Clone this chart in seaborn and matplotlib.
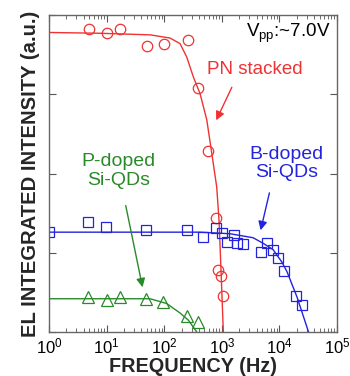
import matplotlib
matplotlib.use('Agg')
import matplotlib.pyplot as plt
from matplotlib.ticker import LogLocator
import numpy as np
import pandas as pd
import seaborn as sns

# measured points (frequency in Hz, EL intensity in a.u.)
pn_freq = [5.0, 10.0, 17.1, 49.7, 99.4, 256, 391, 583, 793, 869, 957, 1062]
pn_int = [3.83, 3.77, 3.83, 3.61, 3.63, 3.69, 3.08, 2.29, 1.44, 0.78, 0.71, 0.45]

b_freq = [1.0, 4.8, 9.7, 47.7, 252, 477, 793, 995, 1216, 1629, 1859, 2362,
          4732, 6023, 7652, 9578, 12170, 19410, 24370]
b_int = [1.26, 1.39, 1.33, 1.29, 1.29, 1.20, 1.31, 1.25, 1.13, 1.22, 1.12, 1.11,
         1.01, 1.12, 1.04, 0.94, 0.77, 0.45, 0.34]

p_freq = [4.8, 10.0, 17.1, 48.3, 96.5, 252, 391]
p_int = [0.44, 0.40, 0.44, 0.42, 0.38, 0.20, 0.13]

# fitted curves
pn_fit_freq = [1, 7.7, 56.7, 126, 188, 246, 320, 418, 547, 668, 815, 894, 968, 1062]
pn_fit_int = [3.78, 3.77, 3.75, 3.71, 3.64, 3.47, 3.22, 3.01, 2.68, 2.26, 1.83, 1.41, 0.78, 0.0]

b_fit_freq = [1, 418, 1388, 3481, 5194, 7743, 11090, 13550, 20220, 32000]
b_fit_int = [1.26, 1.26, 1.24, 1.19, 1.12, 1.04, 0.88, 0.76, 0.44, 0.0]

p_fit_freq = [1, 56.7, 110, 188, 262, 367]
p_fit_int = [0.42, 0.42, 0.36, 0.24, 0.15, 0.0]

x_ticks = [1, 10, 100, 1000, 10000, 100000]

red = '#f03232'
blue = '#2323dd'
green = '#2a8a2a'

sns.set_style('ticks')
plt.rcParams['font.family'] = ['Liberation Sans', 'DejaVu Sans']
plt.rcParams['mathtext.default'] = 'regular'

fig = plt.figure(figsize=(3.5, 3.76), dpi=100)
ax = fig.add_axes([0.14, 0.117, 0.823, 0.843])

for fx, fy, c in [(pn_fit_freq, pn_fit_int, red),
                  (b_fit_freq, b_fit_int, blue),
                  (p_fit_freq, p_fit_int, green)]:
    sns.lineplot(x=fx, y=fy, ax=ax, color=c, lw=1.0, estimator=None, sort=False)

for fx, fy, c, m, ms in [(pn_freq, pn_int, red, 'o', 7.5),
                         (b_freq, b_int, blue, 's', 7.5),
                         (p_freq, p_int, green, '^', 8.5)]:
    sns.lineplot(x=fx, y=fy, ax=ax, color=c, linestyle='', marker=m,
                 markersize=ms, markerfacecolor='none', markeredgecolor=c,
                 markeredgewidth=0.9, estimator=None, sort=False)

ax.set_xscale('log')
ax.xaxis.set_major_locator(LogLocator(base=10, numticks=20))
ax.xaxis.set_minor_locator(LogLocator(base=10, subs=np.arange(2, 10), numticks=20))
ax.set_xticks(x_ticks)
ax.set_xlim(1, 1e5)
ax.set_ylim(0, 4)
ax.set_yticks([0, 1, 2, 3, 4])
ax.set_yticklabels([])

ax.tick_params(which='both', direction='in', top=True, right=True, colors='#555555',
               labelcolor='black', labelsize=12)
ax.tick_params(which='major', length=5, width=0.8)
ax.tick_params(which='minor', length=3, width=0.6)
for s in ax.spines.values():
    s.set_color('#666666')
    s.set_linewidth(1.0)

ax.set_xlabel('FREQUENCY (Hz)', fontsize=14.3, fontweight='bold', labelpad=0)
ax.set_ylabel('EL INTEGRATED INTENSITY (a.u.)', fontsize=14.6, fontweight='bold', labelpad=3)

ax.text(0.976, 0.943, 'V$_{pp}$:~7.0V', transform=ax.transAxes, ha='right', va='center',
        fontsize=13.5, color='black')
ax.text(0.715, 0.827, 'PN stacked', transform=ax.transAxes, ha='center', va='center',
        fontsize=13.5, color=red)
ax.annotate('', xy=(762, 2.64), xytext=(1565, 3.12),
            arrowprops=dict(arrowstyle='-|>', color=red, lw=1.0, mutation_scale=13))
ax.text(0.826, 0.531, 'B-doped\nSi-QDs', transform=ax.transAxes, ha='center', va='center',
        fontsize=14, color=blue, linespacing=1.1)
ax.annotate('', xy=(4600, 1.25), xytext=(6870, 1.79),
            arrowprops=dict(arrowstyle='-|>', color=blue, lw=1.0, mutation_scale=13))
ax.text(0.241, 0.508, 'P-doped\nSi-QDs', transform=ax.transAxes, ha='center', va='center',
        fontsize=14, color=green, linespacing=1.1)
ax.annotate('', xy=(43, 0.53), xytext=(21, 1.63),
            arrowprops=dict(arrowstyle='-|>', color=green, lw=1.0, mutation_scale=13))

fig.savefig('out.png', dpi=100)
